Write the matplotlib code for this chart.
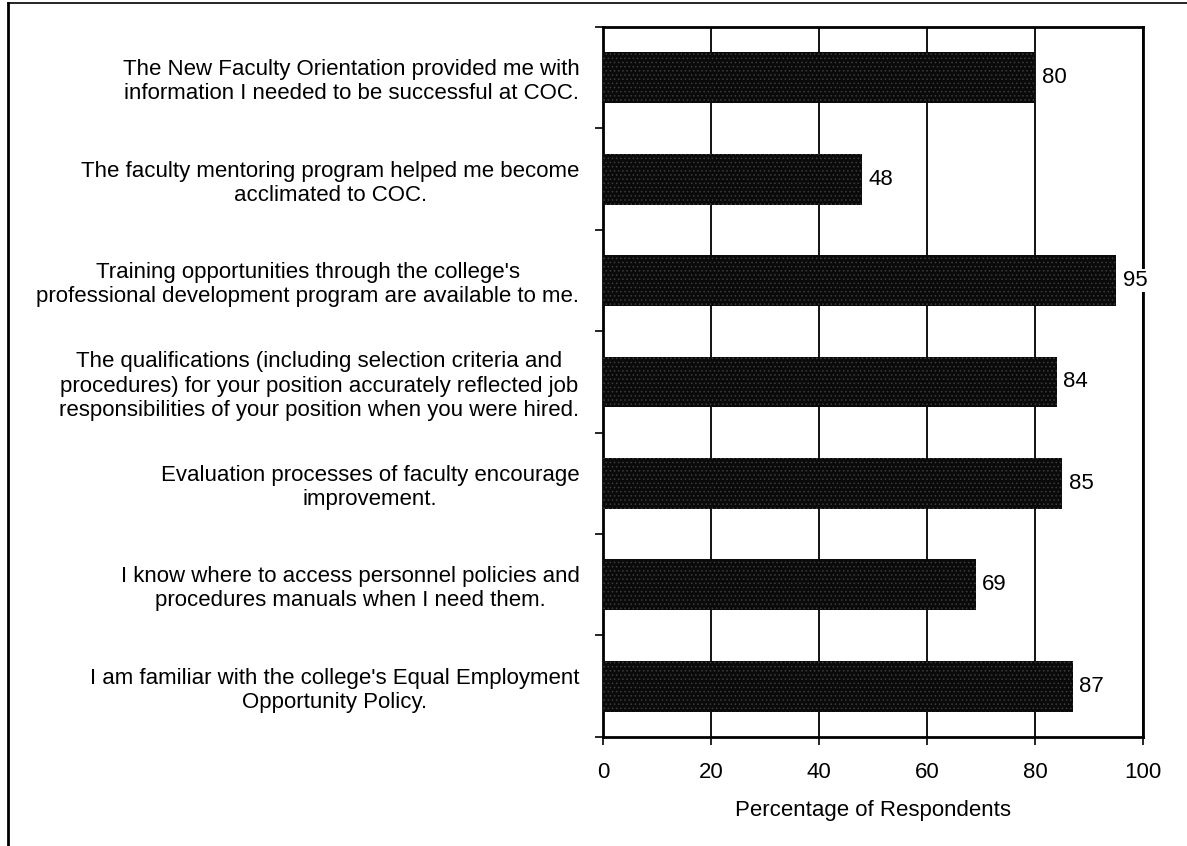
import matplotlib
matplotlib.use('Agg')
import matplotlib.pyplot as plt
from matplotlib.lines import Line2D
import numpy as np

plt.rcParams['font.family'] = ['Liberation Sans', 'DejaVu Sans']
plt.rcParams['hatch.linewidth'] = 0.6

# Survey statements, top to bottom
statements = [
    "The New Faculty Orientation provided me with\ninformation I needed to be successful at COC.",
    "The faculty mentoring program helped me become\nacclimated to COC.",
    "Training opportunities through the college's\nprofessional development program are available to me.",
    "The qualifications (including selection criteria and\nprocedures) for your position accurately reflected job\nresponsibilities of your position when you were hired.",
    "Evaluation processes of faculty encourage\nimprovement.",
    "I know where to access personnel policies and\nprocedures manuals when I need them.",
    "I am familiar with the college's Equal Employment\nOpportunity Policy.",
]
percent = [80, 48, 95, 84, 85, 69, 87]
x_ticks = [0, 20, 40, 60, 80, 100]

fs = 16

fig = plt.figure(figsize=(11.87, 8.46), dpi=100)
ax = fig.add_axes([0.508, 0.129, 0.455, 0.839])

y = np.arange(len(statements))[::-1]
ax.barh(y, percent, height=0.5, color='#0a0a0a', edgecolor='#3c3c3c',
        hatch='....', linewidth=0, zorder=3)

for yi, v in zip(y, percent):
    ax.text(v + 1.2, yi, str(v), va='center', ha='left', fontsize=fs,
            zorder=6, bbox=dict(facecolor='white', edgecolor='none', pad=1))

ax.set_xlim(0, 100)
ax.set_ylim(-0.5, len(statements) - 0.5)
ax.set_xticks(x_ticks)
ax.set_xticklabels([str(t) for t in x_ticks], fontsize=fs)
ax.set_yticks(y)
ax.set_yticklabels(statements, fontsize=fs, multialignment='center',
                   linespacing=1.2)
ax.set_yticks(np.arange(-0.5, len(statements), 1.0), minor=True)
ax.tick_params(axis='y', which='major', length=0, pad=17)
ax.tick_params(axis='y', which='minor', length=6, width=1.2, direction='out')
ax.tick_params(axis='x', length=6, width=1.2, direction='out', pad=12)
ax.set_xlabel('Percentage of Respondents', fontsize=fs, labelpad=12)

ax.xaxis.grid(True, color='black', linewidth=1.3, zorder=1)
ax.set_axisbelow(True)
for s in ax.spines.values():
    s.set_linewidth(2)
    s.set_color('black')

# outer frame on top and left edges
fig.add_artist(Line2D([0.007, 0.007], [0.0, 0.997], color='black', linewidth=2,
                      transform=fig.transFigure))
fig.add_artist(Line2D([0.007, 1.0], [0.996, 0.996], color='black', linewidth=1.2,
                      transform=fig.transFigure))

fig.savefig('out.png', dpi=100)
